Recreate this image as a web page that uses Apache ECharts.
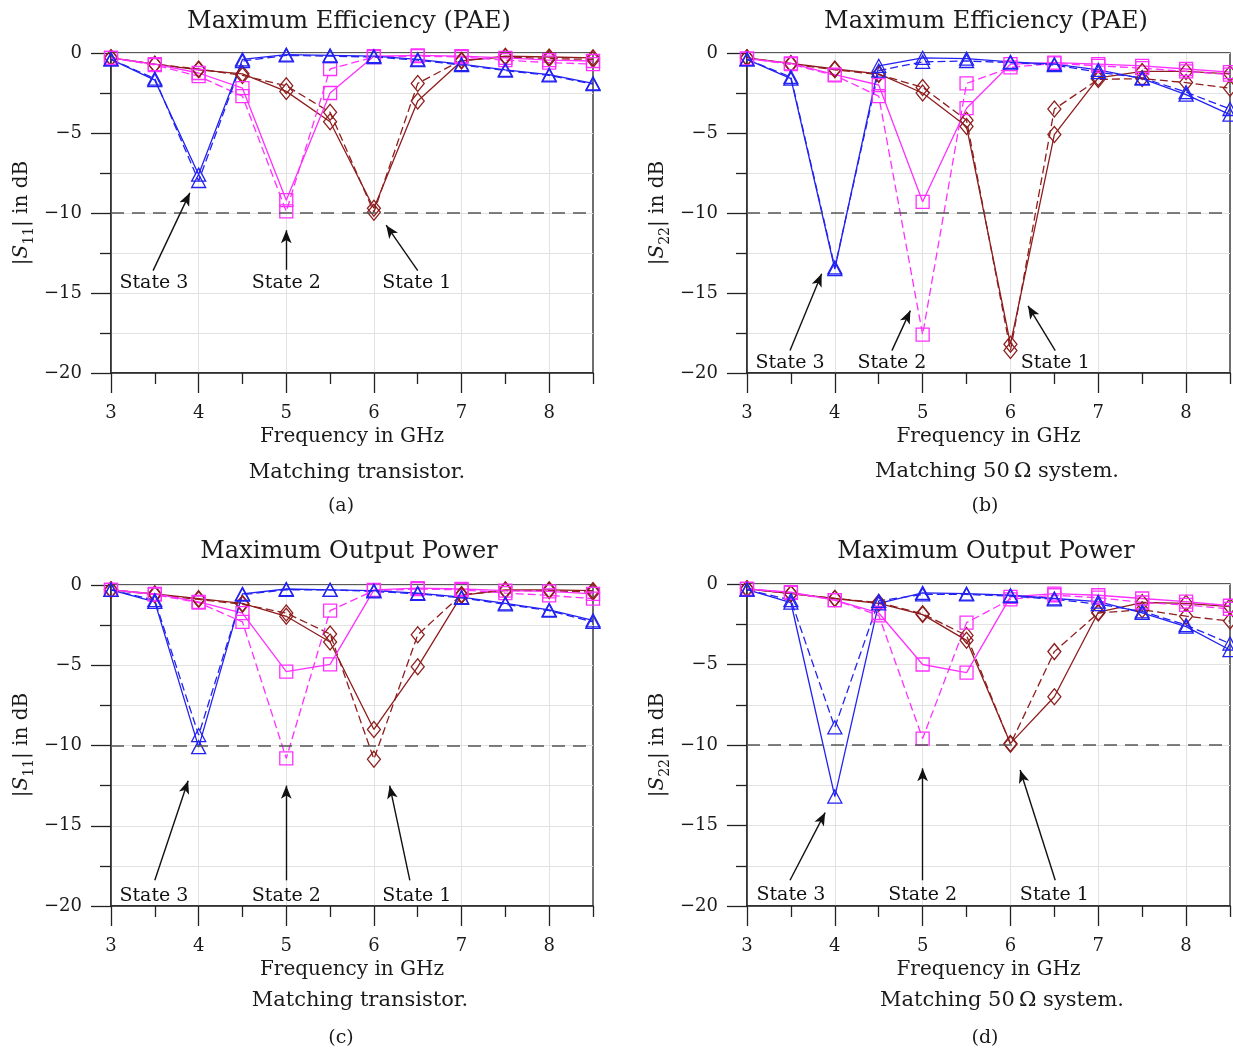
<!DOCTYPE html>
<html><head><meta charset="utf-8">
<script src="https://cdn.jsdelivr.net/npm/echarts@6/dist/echarts.min.js"></script>
<style>html,body{margin:0;padding:0;background:#fff}#c{width:1233px;height:1053px}</style>
</head><body><div id="c"></div>
<script>
// ---------- data ----------
const freq = [3, 3.5, 4, 4.5, 5, 5.5, 6, 6.5, 7, 7.5, 8, 8.5];
const xMajorTicks = [3, 4, 5, 6, 7, 8];
const xMinorTicks = [3.5, 4.5, 5.5, 6.5, 7.5, 8.5];

// (a) Max efficiency, |S11|
const a_s3_solid = [-0.4, -1.7, -7.6, -0.4, -0.1, -0.15, -0.2, -0.4, -0.7, -1.05, -1.35, -1.9];
const a_s3_dash  = [-0.4, -1.6, -8.0, -0.5, -0.15, -0.2, -0.25, -0.45, -0.75, -1.1, -1.4, -1.95];
const a_s2_solid = [-0.3, -0.7, -1.25, -2.2, -9.2, -2.5, -0.2, -0.15, -0.2, -0.3, -0.45, -0.5];
const a_s2_dash  = [-0.3, -0.75, -1.45, -2.7, -9.9, -1.0, -0.25, -0.2, -0.25, -0.45, -0.6, -0.7];
const a_s1_solid = [-0.3, -0.7, -1.05, -1.3, -2.4, -4.3, -9.7, -3.0, -0.5, -0.2, -0.25, -0.3];
const a_s1_dash  = [-0.3, -0.7, -1.0, -1.4, -2.05, -3.7, -9.95, -1.9, -0.45, -0.25, -0.35, -0.4];
// (b) Max efficiency, |S22|
const b_s3_solid = [-0.4, -1.6, -13.5, -0.8, -0.3, -0.35, -0.55, -0.7, -1.05, -1.6, -2.6, -3.85];
const b_s3_dash  = [-0.4, -1.5, -13.4, -1.1, -0.55, -0.5, -0.6, -0.75, -1.2, -1.55, -2.45, -3.5];
const b_s2_solid = [-0.35, -0.65, -1.35, -2.0, -9.3, -3.45, -0.7, -0.6, -0.7, -0.8, -1.0, -1.2];
const b_s2_dash  = [-0.35, -0.7, -1.4, -2.7, -17.6, -1.9, -0.9, -0.65, -0.8, -0.95, -1.15, -1.35];
const b_s1_solid = [-0.3, -0.65, -1.0, -1.3, -2.5, -4.6, -18.2, -5.1, -1.55, -1.15, -1.15, -1.3];
const b_s1_dash  = [-0.3, -0.7, -1.05, -1.35, -2.15, -4.2, -18.6, -3.5, -1.65, -1.6, -1.85, -2.2];
// (c) Max output power, |S11|
const c_s3_solid = [-0.3, -1.05, -10.1, -0.55, -0.25, -0.3, -0.35, -0.5, -0.75, -1.15, -1.55, -2.2];
const c_s3_dash  = [-0.3, -0.95, -9.35, -0.6, -0.3, -0.3, -0.4, -0.55, -0.8, -1.2, -1.6, -2.3];
const c_s2_solid = [-0.3, -0.55, -1.05, -1.75, -5.4, -4.95, -0.3, -0.2, -0.25, -0.35, -0.4, -0.55];
const c_s2_dash  = [-0.3, -0.6, -1.1, -2.3, -10.8, -1.6, -0.35, -0.25, -0.3, -0.5, -0.65, -0.85];
const c_s1_solid = [-0.3, -0.55, -0.85, -1.15, -1.95, -3.55, -9.0, -5.1, -0.65, -0.3, -0.3, -0.35];
const c_s1_dash  = [-0.3, -0.6, -0.9, -1.2, -1.75, -3.05, -10.85, -3.1, -0.6, -0.35, -0.35, -0.45];
// (d) Max output power, |S22|
const d_s3_solid = [-0.35, -1.15, -13.2, -1.2, -0.55, -0.6, -0.7, -0.9, -1.1, -1.8, -2.65, -4.1];
const d_s3_dash  = [-0.35, -1.0, -8.9, -1.05, -0.65, -0.65, -0.75, -0.95, -1.25, -1.7, -2.55, -3.7];
const d_s2_solid = [-0.3, -0.5, -1.0, -1.8, -5.0, -5.5, -0.8, -0.6, -0.7, -0.9, -1.1, -1.35];
const d_s2_dash  = [-0.3, -0.55, -1.0, -1.95, -9.6, -2.4, -0.95, -0.7, -0.85, -1.15, -1.3, -1.55];
const d_s1_solid = [-0.3, -0.6, -0.9, -1.2, -1.9, -3.5, -9.9, -7.0, -1.75, -1.15, -1.2, -1.4];
const d_s1_dash  = [-0.3, -0.6, -0.9, -1.15, -1.85, -3.2, -9.95, -4.2, -1.8, -1.6, -2.0, -2.3];

const panelTitles = ['Maximum Efficiency (PAE)', 'Maximum Efficiency (PAE)', 'Maximum Output Power', 'Maximum Output Power'];
const captions = ['Matching transistor.', 'Matching 50\u2009\u03A9 system.', 'Matching transistor.', 'Matching 50\u2009\u03A9 system.'];
const subLabels = ['(a)', '(b)', '(c)', '(d)'];
const sParams = ['11', '22', '11', '22'];
const xName = 'Frequency in GHz';
const refLevel = -10;
const stateNames = ['State 3', 'State 2', 'State 1'];

// annotation anchors in data units: [x, y]
const a_labels = [[3.49, -14.4], [5.0, -14.4], [6.49, -14.4]];
const b_labels = [[3.49, -19.4], [4.65, -19.4], [6.51, -19.4]];
const c_labels = [[3.49, -19.35], [5.0, -19.35], [6.49, -19.35]];
const d_labels = [[3.5, -19.3], [5.0, -19.3], [6.5, -19.3]];
// arrows: [fromX, fromY, toX, toY]
const a_arrows = [[3.48, -13.6, 3.90, -8.74], [5.0, -13.55, 5.0, -11.08], [6.50, -13.6, 6.14, -10.76]];
const b_arrows = [[3.49, -18.6, 3.85, -13.8], [4.65, -18.6, 4.86, -16.1], [6.51, -18.6, 6.20, -15.8]];
const c_arrows = [[3.50, -18.4, 3.88, -12.2], [5.0, -18.4, 5.0, -12.5], [6.41, -18.4, 6.18, -12.5]];
const d_arrows = [[3.49, -18.4, 3.89, -14.2], [5.0, -18.4, 5.0, -11.45], [6.51, -18.4, 6.11, -11.55]];

const panels = [
  {s3: [a_s3_solid, a_s3_dash], s2: [a_s2_solid, a_s2_dash], s1: [a_s1_solid, a_s1_dash], labels: a_labels, arrows: a_arrows},
  {s3: [b_s3_solid, b_s3_dash], s2: [b_s2_solid, b_s2_dash], s1: [b_s1_solid, b_s1_dash], labels: b_labels, arrows: b_arrows},
  {s3: [c_s3_solid, c_s3_dash], s2: [c_s2_solid, c_s2_dash], s1: [c_s1_solid, c_s1_dash], labels: c_labels, arrows: c_arrows},
  {s3: [d_s3_solid, d_s3_dash], s2: [d_s2_solid, d_s2_dash], s1: [d_s1_solid, d_s1_dash], labels: d_labels, arrows: d_arrows}
];

// ---------- layout / style ----------
const FONT = 'DejaVu Serif';
const TXT = '#1a1a1a';
const gridsPos = [
  {left: 111, top: 53, width: 482, height: 320},
  {left: 747, top: 53, width: 483, height: 320},
  {left: 111, top: 585, width: 482, height: 321},
  {left: 747, top: 584, width: 483, height: 322}
];
const titlePos = [[349, 22], [986, 22], [349, 552], [986, 552]];
const yNamePos = [[22, 213], [658, 213], [22, 745], [658, 745]];
const capPos = [[357, 473], [997, 472], [360, 1001], [1002, 1001]];
const subPos = [[341, 506], [985, 506], [341, 1038], [985, 1038]];
const styles = {
  s3: {color: '#2222f2', symbol: 'triangle', size: [14, 13]},
  s2: {color: '#ff30ff', symbol: 'rect', size: [13, 13]},
  s1: {color: '#8e1d1d', symbol: 'diamond', size: [13, 16]}
};

const fmtY = v => v === 0 ? '0' : '\u2212' + Math.abs(v);

const grid = [], xAxis = [], yAxis = [], series = [], graphic = [];
panels.forEach((p, k) => {
  grid.push(Object.assign({show: true, borderColor: '#222', borderWidth: 1.3, backgroundColor: 'transparent'}, gridsPos[k]));
  xAxis.push({
    type: 'value', gridIndex: k, min: 3, max: 8.5, interval: 0.5,
    name: xName, nameLocation: 'middle', nameGap: 54,
    nameTextStyle: {fontFamily: FONT, fontSize: 20, color: TXT},
    axisLine: {show: true, onZero: false, lineStyle: {color: '#222', width: 1.5}},
    axisTick: {show: true, length: 20, customValues: xMajorTicks, lineStyle: {color: '#222', width: 1.3}},
    axisLabel: {show: true, customValues: xMajorTicks, margin: 31, fontFamily: FONT, fontSize: 18, color: TXT},
    splitLine: {show: true, lineStyle: {color: '#e2e2e2', width: 1}}
  });
  xAxis.push({
    type: 'value', gridIndex: k, min: 3, max: 8.5, interval: 0.5, position: 'bottom',
    axisLine: {show: false, onZero: false},
    axisTick: {show: true, length: 11, customValues: xMinorTicks, lineStyle: {color: '#222', width: 1.3}},
    axisLabel: {show: false}, splitLine: {show: false}
  });
  yAxis.push({
    type: 'value', gridIndex: k, min: -20, max: 0, interval: 5,
    axisLine: {show: true, onZero: false, lineStyle: {color: '#222', width: 1.5}},
    axisTick: {show: true, length: 20, lineStyle: {color: '#222', width: 1.3}},
    minorTick: {show: true, splitNumber: 2, length: 11, lineStyle: {color: '#222', width: 1.3}},
    axisLabel: {show: true, margin: 29, formatter: fmtY, fontFamily: FONT, fontSize: 18, color: TXT},
    splitLine: {show: true, lineStyle: {color: '#e2e2e2', width: 1}},
    minorSplitLine: {show: true, lineStyle: {color: '#e2e2e2', width: 1}}
  });

  // annotations: state labels + arrows + -10 dB reference line
  const mlData = [{yAxis: refLevel, lineStyle: {color: '#555', width: 1.5, type: [13, 8]}}];
  p.arrows.forEach(a => {
    mlData.push([
      {coord: [a[0], a[1]], symbol: 'none'},
      {coord: [a[2], a[3]], symbol: 'arrow', symbolSize: [8, 13], lineStyle: {color: '#111', width: 1.4, type: 'solid'}}
    ]);
  });
  series.push({
    type: 'scatter', xAxisIndex: 2 * k, yAxisIndex: k, silent: true, z: 1,
    symbol: 'circle', symbolSize: 0, itemStyle: {color: '#000', opacity: 1},
    data: p.labels.map((l, i) => [l[0], l[1], stateNames[i]]),
    label: {show: true, position: [0, 0], align: 'center', verticalAlign: 'middle',
      formatter: q => q.data[2], fontFamily: FONT, fontSize: 19, color: '#111', opacity: 1, textBorderWidth: 0},
    markLine: {silent: true, symbol: ['none', 'none'], label: {show: false}, animation: false,
      lineStyle: {color: '#111', width: 1.4, type: 'solid'}, data: mlData}
  });

  ['s1', 's2', 's3'].forEach(key => {
    const st = styles[key];
    p[key].forEach((arr, j) => {
      series.push({
        type: 'line', xAxisIndex: 2 * k, yAxisIndex: k, silent: true, z: 3,
        data: freq.map((f, i) => [f, arr[i]]),
        symbol: st.symbol, symbolSize: st.size, showSymbol: true,
        lineStyle: {color: st.color, width: 1.3, type: j === 0 ? 'solid' : [8, 4]},
        itemStyle: {color: 'rgba(255,255,255,0)', borderColor: st.color, borderWidth: 1.3, borderType: 'solid'}
      });
    });
  });

  graphic.push({type: 'text', x: titlePos[k][0], y: titlePos[k][1], silent: true,
    style: {text: panelTitles[k], fontFamily: FONT, fontSize: 24, fill: TXT, align: 'center', verticalAlign: 'middle'}});
  graphic.push({type: 'text', x: capPos[k][0], y: capPos[k][1], silent: true,
    style: {text: captions[k], fontFamily: FONT, fontSize: 21, fill: TXT, align: 'center', verticalAlign: 'middle'}});
  graphic.push({type: 'text', x: subPos[k][0], y: subPos[k][1], silent: true,
    style: {text: subLabels[k], fontFamily: FONT, fontSize: 19, fill: TXT, align: 'center', verticalAlign: 'middle'}});
  graphic.push({type: 'text', x: yNamePos[k][0], y: yNamePos[k][1], rotation: Math.PI / 2, silent: true,
    style: {
      text: '{b||}{i|S}{s|' + sParams[k] + '}{b|| in dB}', align: 'center', verticalAlign: 'middle',
      rich: {
        b: {fontFamily: FONT, fontSize: 20, fill: TXT, lineHeight: 26, verticalAlign: 'middle'},
        i: {fontFamily: FONT, fontSize: 20, fontStyle: 'italic', fill: TXT, lineHeight: 26, verticalAlign: 'middle'},
        s: {fontFamily: FONT, fontSize: 14, fill: TXT, lineHeight: 28, verticalAlign: 'bottom'}
      }
    }});
});

const chart = echarts.init(document.getElementById('c'), null, {renderer: 'canvas'});
chart.setOption({animation: false, backgroundColor: '#fff', grid, xAxis, yAxis, series, graphic});
</script></body></html>
